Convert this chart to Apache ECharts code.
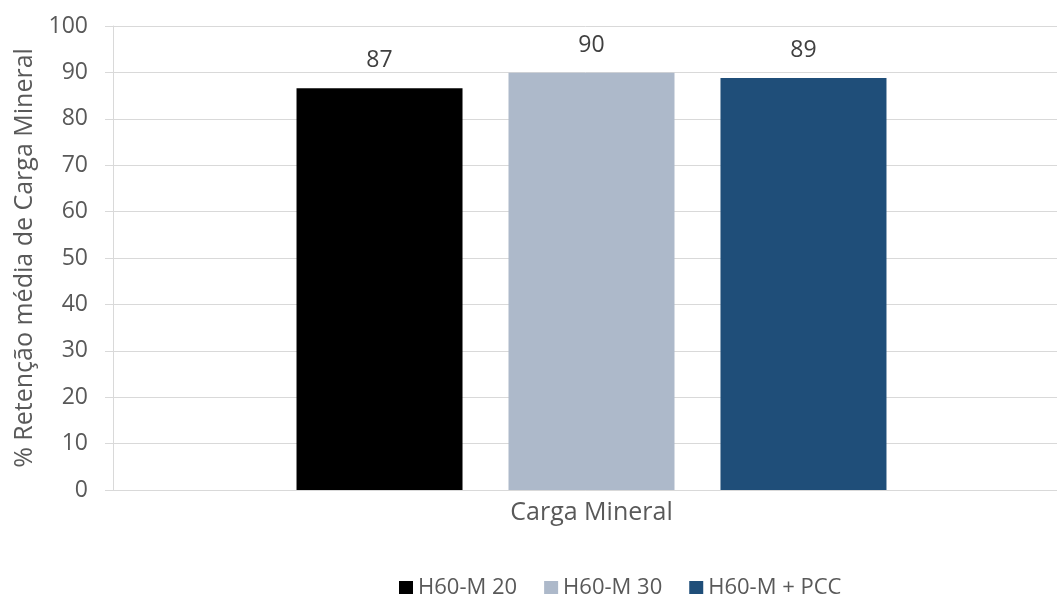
<!DOCTYPE html>
<html>
<head>
<meta charset="utf-8">
<script src="https://cdn.jsdelivr.net/npm/echarts@6/dist/echarts.min.js"></script>
<style>
  html, body { margin: 0; padding: 0; background: #ffffff; }
  #chart { width: 1057px; height: 594px; }
</style>
</head>
<body>
<div id="chart"></div>
<script>
// Retenção média de carga mineral por formulação
const categories = ['Carga Mineral'];
const seriesNames = ['H60-M 20', 'H60-M 30', 'H60-M + PCC'];
const valuesM20 = [86.6];
const valuesM30 = [89.9];
const valuesPCC = [88.8];
const seriesColors = ['#000000', '#ADB9CA', '#1F4E79'];
const yTicks = { min: 0, max: 100, interval: 10 };

const FONT = '"Open Sans", "Noto Sans", sans-serif';
const TEXT_GRAY = '#595959';
const GRID_GRAY = '#D9D9D9';

const seriesData = [valuesM20, valuesM30, valuesPCC];

const chart = echarts.init(document.getElementById('chart'), null, { renderer: 'canvas' });

chart.setOption({
  backgroundColor: '#ffffff',
  animation: false,
  textStyle: { fontFamily: FONT },
  // the plot area runs a little past the right edge of the canvas
  grid: { left: 113, top: 26, width: 957, height: 464, containLabel: false, outerBoundsMode: 'none' },
  legend: {
    data: seriesNames,
    left: 394,
    top: 572,
    itemWidth: 14,
    itemHeight: 14,
    itemGap: 27,
    icon: 'rect',
    textStyle: { color: TEXT_GRAY, fontSize: 22, fontFamily: FONT }
  },
  xAxis: {
    type: 'category',
    data: categories,
    axisLine: { show: true, lineStyle: { color: GRID_GRAY, width: 1 } },
    axisTick: { show: false },
    axisLabel: { color: TEXT_GRAY, fontSize: 25, fontFamily: FONT, margin: 10 }
  },
  yAxis: {
    type: 'value',
    min: yTicks.min,
    max: yTicks.max,
    interval: yTicks.interval,
    name: '% Retenção média de Carga Mineral',
    nameLocation: 'middle',
    nameGap: 76,
    nameTextStyle: { color: TEXT_GRAY, fontSize: 25, fontFamily: FONT },
    axisLine: { show: true, lineStyle: { color: GRID_GRAY, width: 1 } },
    axisTick: { show: true, length: 8, lineStyle: { color: GRID_GRAY } },
    axisLabel: { color: TEXT_GRAY, fontSize: 23, fontFamily: FONT, margin: 25 },
    splitLine: { show: true, lineStyle: { color: GRID_GRAY, width: 1 } }
  },
  series: seriesNames.map((name, i) => ({
    name: name,
    type: 'bar',
    data: seriesData[i],
    barWidth: 166,
    barGap: '27.7%',
    itemStyle: { color: seriesColors[i] },
    label: {
      show: true,
      position: 'top',
      distance: 16,
      color: '#404040',
      fontSize: 23,
      fontFamily: FONT,
      formatter: p => Math.round(p.value).toString()
    }
  }))
});
</script>
</body>
</html>
